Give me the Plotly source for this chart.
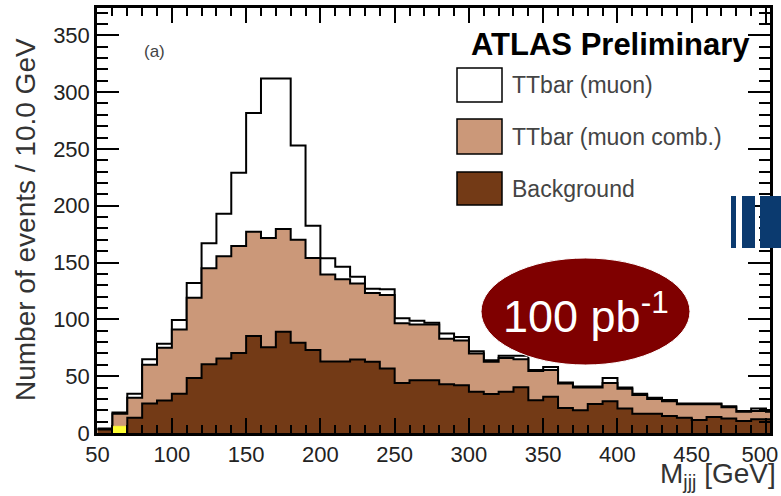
import plotly.graph_objects as go

# ---------------- data ----------------
bin_lo = [50, 60, 70, 80, 90, 100, 110, 120, 130, 140, 150, 160, 170, 180, 190,
          200, 210, 220, 230, 240, 250, 260, 270, 280, 290, 300, 310, 320, 330, 340,
          350, 360, 370, 380, 390, 400, 410, 420, 430, 440, 450, 460, 470, 480, 490, 500]
bin_width = 10

ttbar_muon = [4, 18, 34.5, 65, 78.5, 99.5, 132, 167, 193, 229, 281.5, 312, 312, 253, 182.3,
              153.8, 146.4, 137.6, 127, 126.5, 100.9, 98.8, 97, 87.5, 84.5, 72, 64, 68, 68, 55.5,
              58, 44.5, 41, 41, 48.5, 40, 34.5, 31, 29, 26, 26, 26, 23.5, 19.4, 21.5, 19.4]
ttbar_comb = [3.5, 17, 31, 60, 75, 91, 119, 145, 155.5, 164.5, 177, 171.5, 179.5, 170, 154,
              139.5, 135.2, 131.5, 123.2, 121.4, 96.5, 95.5, 95.5, 83, 81.5, 70, 62.6, 66, 65, 54.5,
              55.5, 43.5, 40, 40, 44, 39, 33.5, 30, 28, 25.3, 25.3, 25.3, 22.7, 18.8, 19.4, 18.8]
background = [3, 0, 13.5, 26, 28.5, 34.5, 48.5, 60.5, 65.5, 70.5, 85.3, 75.5, 89, 79.4, 73,
              63, 63, 64.7, 62.7, 56.8, 44.1, 46.5, 46.5, 43, 42, 36.2, 34.4, 36.2, 40.3, 28.8,
              32, 22, 20, 25.5, 28, 21.5, 17, 17, 15, 13.5, 11.5, 14, 12.7, 10.5, 12, 12]
other_lo = [60]
other = [6]

x_tick_vals = [50, 100, 150, 200, 250, 300, 350, 400, 450, 500]
x_tick_text = ["50", "100", "150", "200", "250", "300", "350", "400", "450",
               "500\u00a0\u00a0"]

legend_labels = ["TTbar (muon)", "TTbar (muon comb.)", "Background"]
colors = ["#FFFFFF", "#CB9879", "#733A16"]

# ---------------- geometry helpers (layout only) ----------------
W, H = 781, 496
ML, MR, MT, MB = 97, 11, 8, 63
PW, PH = W - ML - MR, H - MT - MB


def px(xp):
    return (xp - ML) / PW


def py(yp):
    return (H - MB - yp) / PH


def steps(lo, vals):
    xs = list(lo) + [lo[-1] + bin_width]
    ys = list(vals) + [vals[-1]]
    return xs, ys


fig = go.Figure()
for vals, col in [(ttbar_muon, colors[0]), (ttbar_comb, colors[1]), (background, colors[2])]:
    xs, ys = steps(bin_lo, vals)
    fig.add_trace(go.Scatter(x=xs, y=ys, mode="lines", line_shape="hv",
                             line=dict(color="black", width=2),
                             fill="tozeroy", fillcolor=col, hoverinfo="skip"))
xs, ys = steps(other_lo, other)
fig.add_trace(go.Scatter(x=xs, y=ys, mode="lines", line_shape="hv",
                         line=dict(color="#FFFF33", width=0.5),
                         fill="tozeroy", fillcolor="#FFFF33", hoverinfo="skip"))

tickfont = dict(family="Liberation Sans, Arial", size=22, color="#222")
fig.update_layout(
    width=W, height=H, margin=dict(l=ML, r=MR, t=MT, b=MB, autoexpand=False),
    paper_bgcolor="white", plot_bgcolor="white", showlegend=False,
    xaxis=dict(range=[49.6, 502.7], showline=True, linecolor="black", linewidth=2.5,
               mirror="allticks", ticks="inside", ticklen=15, tickwidth=2, tickcolor="black",
               tickmode="array", tickvals=x_tick_vals, ticktext=x_tick_text,
               showgrid=False, zeroline=False, tickfont=tickfont,
               ticklabeloverflow="allow", automargin=False,
               minor=dict(ticks="inside", ticklen=8, tickwidth=1.5, tickcolor="black",
                          tick0=50, dtick=10, showgrid=False)),
    yaxis=dict(range=[0, 374], showline=True, linecolor="black", linewidth=2.5,
               mirror="allticks", ticks="inside", ticklen=22, tickwidth=2, tickcolor="black",
               tick0=0, dtick=50, showgrid=False, zeroline=False, tickfont=tickfont,
               automargin=False,
               minor=dict(ticks="inside", ticklen=11, tickwidth=1.5, tickcolor="black",
                          tick0=0, dtick=10, showgrid=False)),
)

shapes = []
# legend boxes
box_y = [(68, 102), (119, 154), (172, 205)]
for (y0, y1), col in zip(box_y, colors):
    shapes.append(dict(type="rect", xref="paper", yref="paper",
                       x0=px(457), x1=px(502), y0=py(y1), y1=py(y0),
                       fillcolor=col, line=dict(color="black", width=1.5), layer="above"))
# luminosity ellipse
shapes.append(dict(type="circle", xref="paper", yref="paper",
                   x0=px(481), x1=px(690), y0=py(365), y1=py(258),
                   fillcolor="#7F0000", line=dict(color="white", width=1), layer="above"))
# blue logo fragment at right edge
for x0, x1 in [(731, 736), (742, 755), (760, 781)]:
    shapes.append(dict(type="rect", xref="paper", yref="paper",
                       x0=px(x0), x1=px(x1), y0=py(248), y1=py(196),
                       fillcolor="#0B3A6F", line=dict(width=0), layer="above"))
fig.update_layout(shapes=shapes)

ann = []
for (y0, y1), lab in zip(box_y, legend_labels):
    ann.append(dict(text=lab, xref="paper", yref="paper", x=px(510), y=py((y0 + y1) / 2),
                    xanchor="left", yanchor="middle", showarrow=False,
                    font=dict(family="Liberation Sans, Arial", size=23, color="#444")))
ann.append(dict(text="<b>ATLAS Preliminary</b>", xref="paper", yref="paper",
                x=px(610), y=py(45), xanchor="center", yanchor="middle", showarrow=False,
                font=dict(family="Liberation Sans, Arial", size=31, color="black")))
ann.append(dict(text="(a)", xref="paper", yref="paper", x=px(154), y=py(52),
                xanchor="center", yanchor="middle", showarrow=False,
                font=dict(family="Liberation Sans, Arial", size=17, color="#444")))
ann.append(dict(text="100 pb<sup>-1</sup>", xref="paper", yref="paper", x=px(586), y=py(313),
                xanchor="center", yanchor="middle", showarrow=False,
                font=dict(family="Liberation Sans, Arial", size=45, color="white")))
ann.append(dict(text="Number of events / 10.0 GeV", xref="paper", yref="paper",
                x=px(26), y=py(220), xanchor="center", yanchor="middle", textangle=-90,
                showarrow=False, font=dict(family="Liberation Sans, Arial", size=28, color="#333")))
ann.append(dict(text="M<sub>jjj</sub> [GeV]", xref="paper", yref="paper",
                x=px(778), y=py(476), xanchor="right", yanchor="middle",
                showarrow=False, font=dict(family="Liberation Sans, Arial", size=28, color="#333")))
fig.update_layout(annotations=ann)

fig.write_html("out.html")
